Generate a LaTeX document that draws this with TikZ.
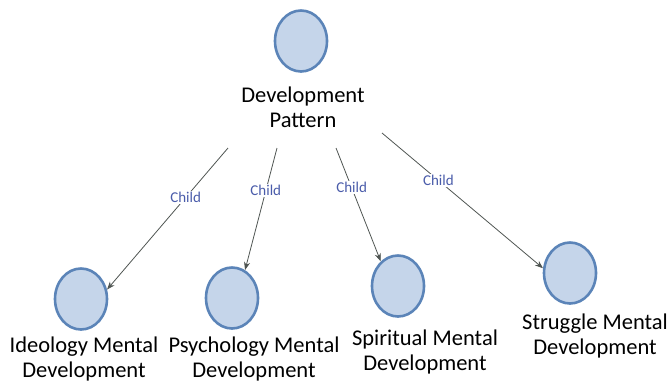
\documentclass[tikz,border=0pt]{standalone}
\usepackage{fontspec}
\setmainfont{Carlito}
\usetikzlibrary{arrows.meta,shapes.geometric}
\definecolor{cfill}{HTML}{C5D5EA}
\definecolor{cborder}{HTML}{5B84B8}
\definecolor{edgec}{HTML}{4F5552}
\definecolor{lblc}{HTML}{4A5CAA}
\begin{document}
\begin{tikzpicture}[x=1pt,y=-1pt,
  circ/.style={ellipse, draw=cborder, fill=cfill, line width=2.6pt, minimum width=52pt, minimum height=61pt, inner sep=0pt},
  txt/.style={font=\fontsize{22.5}{25}\selectfont, align=center, text=black, inner sep=0pt},
  childlbl/.style={font=\fontsize{15}{15}\selectfont, text=lblc, fill=white, inner sep=1.5pt, pos=0.35},
  link/.style={draw=edgec, line width=0.8pt, -{Stealth[length=8pt,width=6pt,inset=2.5pt]}}]
\useasboundingbox (0,0) rectangle (671,383);
\node[circ] (top) at (301,41) {};
\node[txt] (toptxt) at (303,107) {Development\\Pattern};
\node[circ] (c1) at (81,299) {};
\node[circ] (c2) at (232,298) {};
\node[circ] (c3) at (398,286) {};
\node[circ] (c4) at (570,273) {};
\node[txt] (t1) at (84,359) {Ideology Mental\\Development};
\node[txt] (t2) at (254,359) {Psychology Mental\\Development};
\node[txt] (t3) at (425,352) {Spiritual Mental\\Development};
\node[txt] (t4) at (595,336) {Struggle Mental\\Development};
\coordinate (s1) at (228,148);
\coordinate (s2) at (277,148);
\coordinate (s3) at (336,148);
\coordinate (s4) at (382,133);
\draw[link] (s1) -- node[childlbl] {Child} (c1.20);
\draw[link] (s2) -- node[childlbl] {Child} (c2.65);
\draw[link] (s3) -- node[childlbl] {Child} (c3.125);
\draw[link] (s4) -- node[childlbl] {Child} (c4.170);
\end{tikzpicture}
\end{document}
